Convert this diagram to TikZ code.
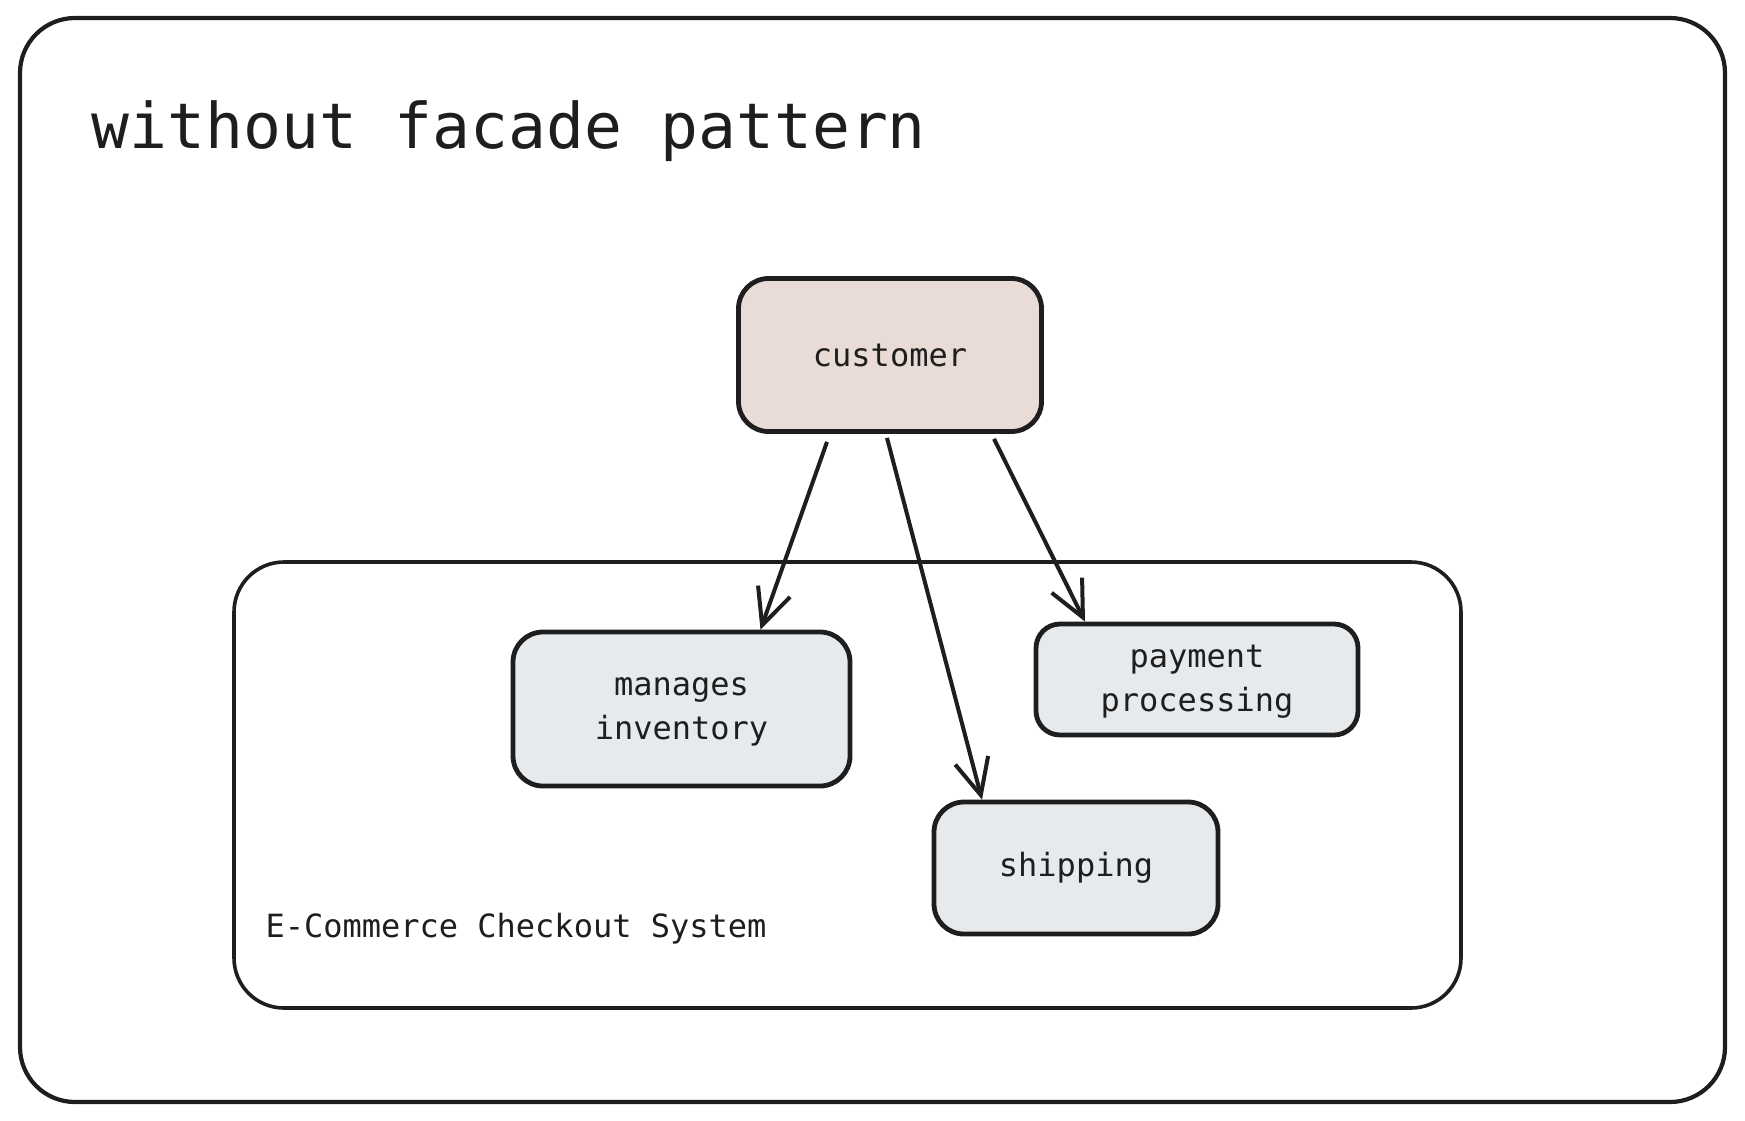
\documentclass[tikz,border=0pt]{standalone}
\usepackage{fontspec}
\setmonofont{DejaVu Sans Mono}
\usetikzlibrary{arrows.meta}
\definecolor{ink}{HTML}{1E1E1E}
\definecolor{custfill}{HTML}{E9DCD7}
\definecolor{boxfill}{HTML}{E7EAED}
\begin{document}
\begin{tikzpicture}[x=1pt,y=-1pt,
  every node/.style={font=\ttfamily\fontsize{32}{44}\selectfont, text=ink},
  card/.style={draw=ink, line width=4.8pt, rounded corners=30pt, inner sep=0pt, align=center},
  link/.style={draw=ink, line width=4pt, -{Straight Barb[length=36pt,width=34pt,line width=4pt]}},
]
\useasboundingbox (0,0) rectangle (1745,1120);
\fill[white] (0,0) rectangle (1745,1120);

% outer frame and checkout subsystem frame
\draw[ink, line width=4.2pt, rounded corners=55pt] (20,18) rectangle (1725,1102);
\draw[ink, line width=3.6pt, rounded corners=50pt] (234,562) rectangle (1461,1008);

% headings
\node[anchor=base west, font=\ttfamily\fontsize{63}{70}\selectfont] (title) at (88,148) {without facade pattern};
\node[anchor=base west] (syslabel) at (262,937) {E-Commerce Checkout System};

% components
\node[card, fill=custfill, minimum width=303pt, minimum height=153pt] (customer) at (890,355) {customer};
\node[card, fill=boxfill, minimum width=337pt, minimum height=154pt, text depth=-1pt] (inventory) at (681.5,709) {manages\\inventory};
\node[card, fill=boxfill, minimum width=322pt, minimum height=111pt, rounded corners=24pt, text depth=3pt] (payment) at (1197,679.5) {payment\\processing};
\node[card, fill=boxfill, minimum width=284pt, minimum height=132pt] (shipping) at (1076,868) {shipping};

% direct calls from the customer into each subsystem
\draw[link] ([shift={(-63,8)}]customer.south) -- ([xshift=79pt]inventory.north);
\draw[link] ([shift={(-3,4)}]customer.south) -- ([xshift=-94pt]shipping.north);
\draw[link] ([shift={(104,5)}]customer.south) -- ([xshift=-112pt]payment.north);
\end{tikzpicture}
\end{document}
